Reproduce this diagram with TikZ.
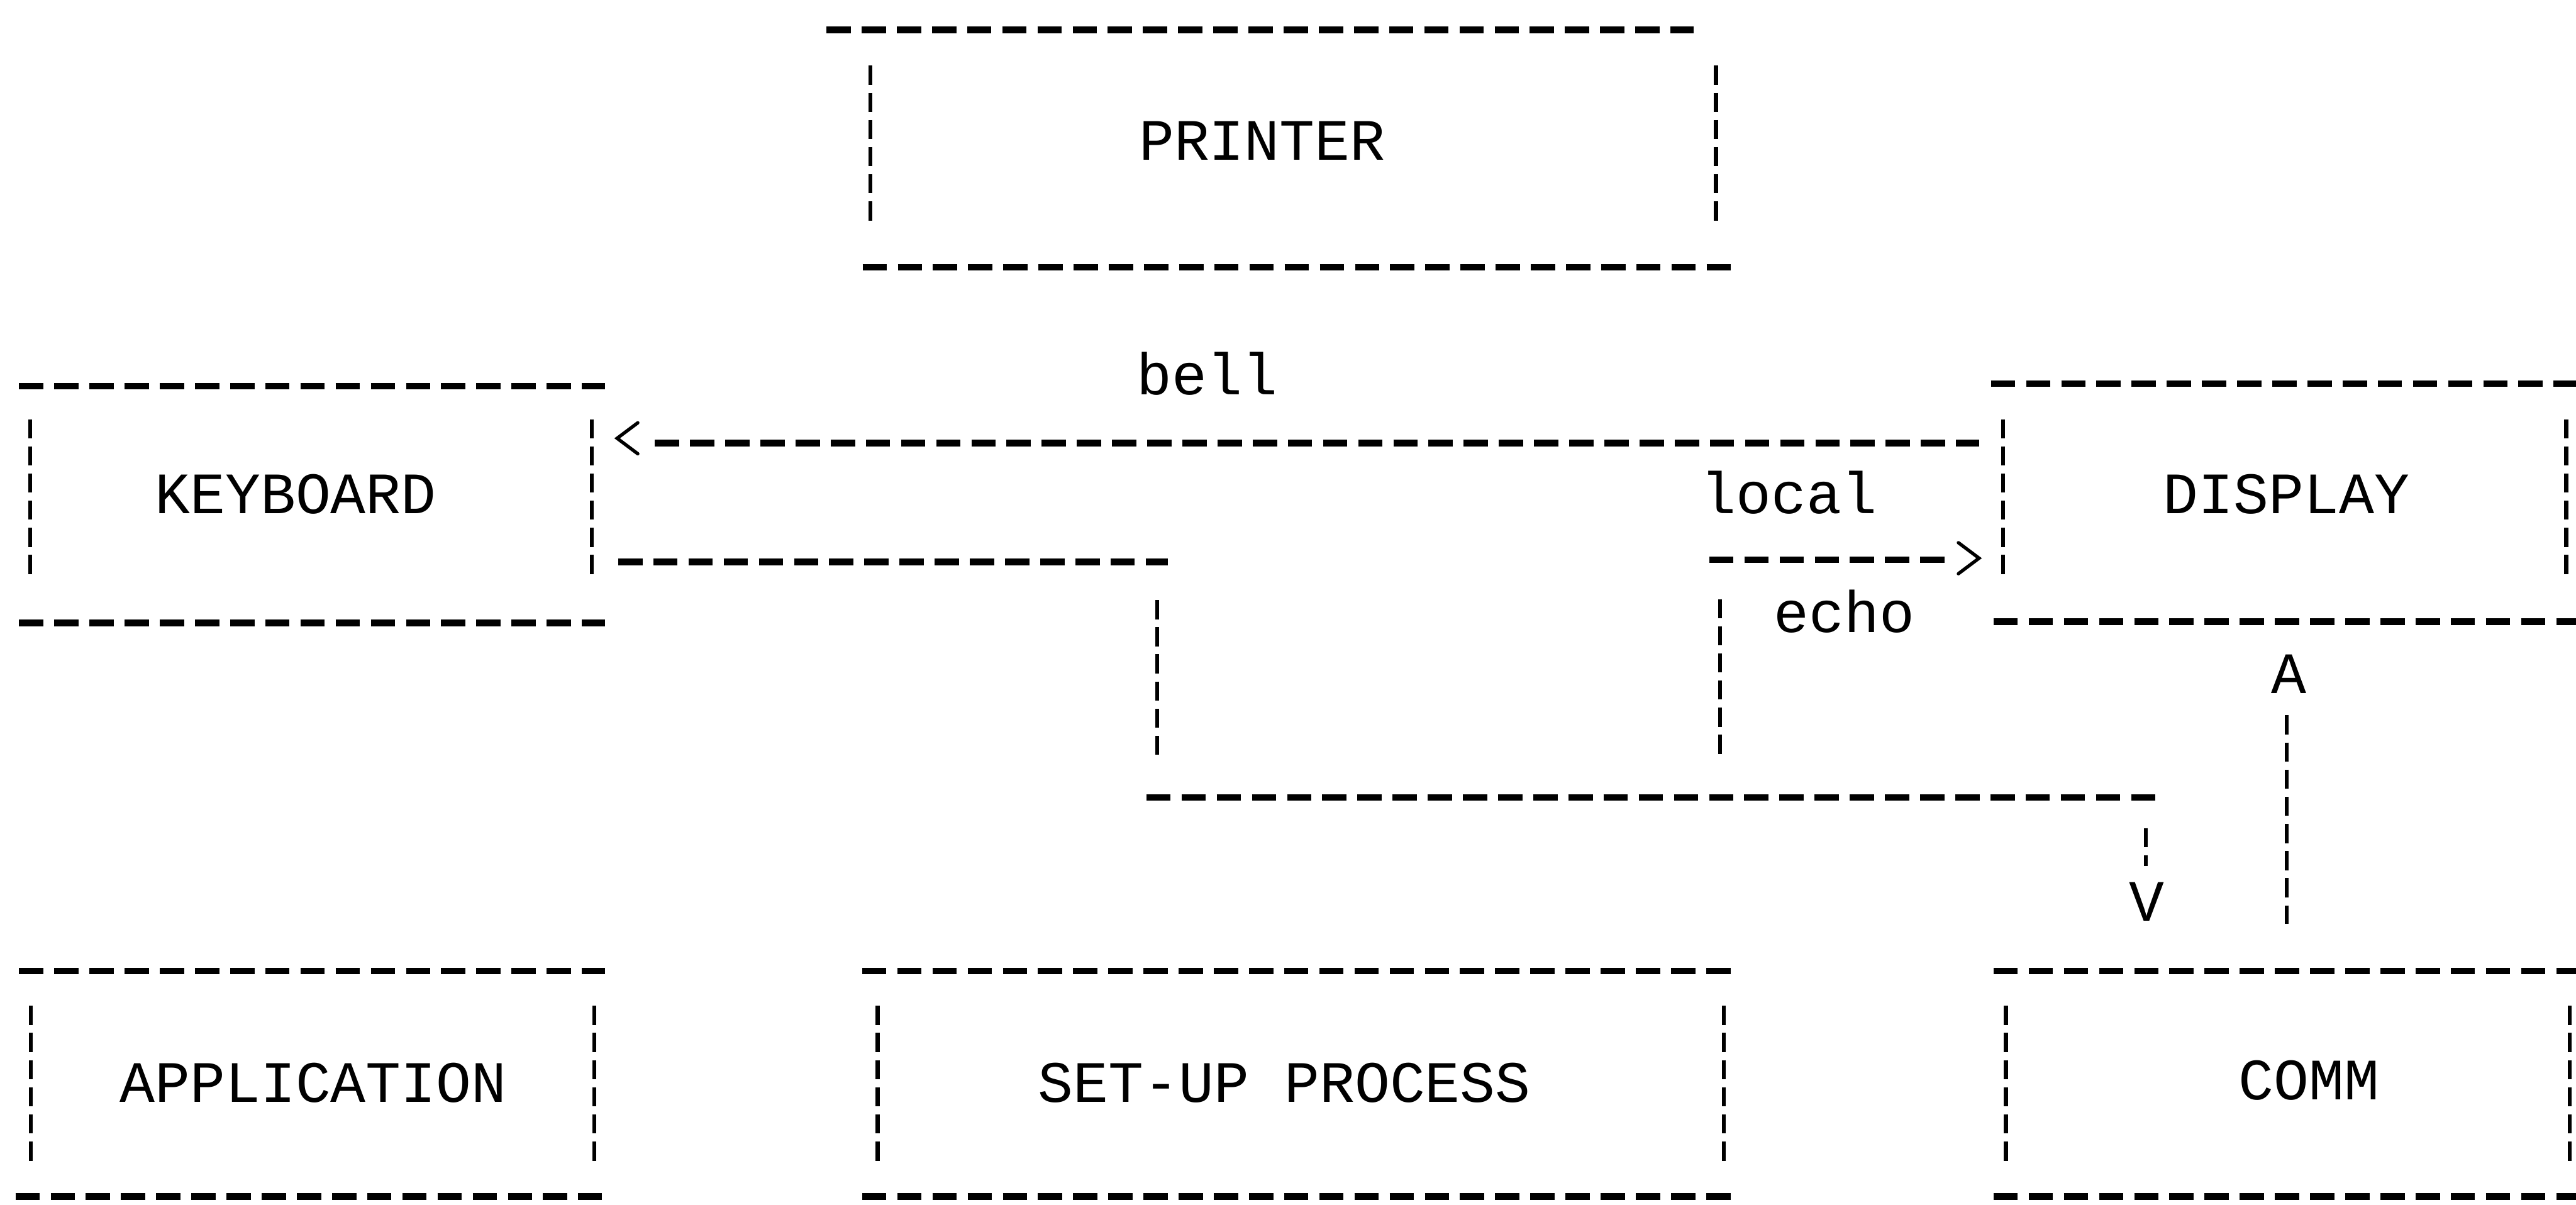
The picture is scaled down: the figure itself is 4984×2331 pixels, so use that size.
\documentclass[tikz,border=0pt]{standalone}
\usepackage{fontspec}
\newfontfamily\asciifont{Liberation Mono}
\begin{document}
\begin{tikzpicture}[x=0.01cm,y=-0.01cm,
  lbl/.style={font=\asciifont\fontsize{32.26}{38}\selectfont, inner sep=0pt, anchor=base},
  hline/.style={line width=0.127cm, dash pattern=on 0.47cm off 0.21cm},
  vline/.style={line width=0.075cm, dash pattern=on 0.37cm off 0.155cm},
  chev/.style={line width=0.065cm, line cap=round, line join=miter}]
\useasboundingbox (0,0) rectangle (4984,2331);

% ---------- PRINTER ----------
\draw[hline] (1599,58) -- (3277,58);
\draw[hline] (1669,517) -- (3350,517);
\draw[vline] (1684,127) -- (1684,435);
\draw[vline] (3320,127) -- (3320,435);
\node[lbl] (printer) at (2442,310) {PRINTER};

% ---------- KEYBOARD ----------
\draw[hline] (37,747) -- (1171,747);
\draw[hline] (37,1205) -- (1171,1205);
\draw[vline] (58,811) -- (58,1113);
\draw[vline] (1145,811) -- (1145,1113);
\node[lbl] (keyboard) at (572,993) {KEYBOARD};

% ---------- DISPLAY ----------
\draw[hline] (3852,742) -- (4984,742);
\draw[hline] (3857,1203) -- (4984,1203);
\draw[vline] (3875,811) -- (3875,1118);
\draw[vline] (4965,811) -- (4965,1118);
\node[lbl] (display) at (4424,993) {DISPLAY};

% ---------- APPLICATION ----------
\draw[hline] (37,1879) -- (1171,1879);
\draw[hline] (30,2315) -- (1164,2315);
\draw[vline] (60,1946) -- (60,2254);
\draw[vline] (1150,1946) -- (1150,2254);
\node[lbl] (application) at (606,2132) {APPLICATION};

% ---------- SET-UP PROCESS ----------
\draw[hline] (1668,1879) -- (3354,1879);
\draw[hline] (1668,2315) -- (3362,2315);
\draw[vline] (1698,1946) -- (1698,2254);
\draw[vline] (3335,1946) -- (3335,2254);
\node[lbl] (setup) at (2485,2132) {SET-UP PROCESS};

% ---------- COMM ----------
\draw[hline] (3857,1879) -- (4984,1879);
\draw[hline] (3857,2315) -- (4984,2315);
\draw[vline] (3881,1946) -- (3881,2259);
\draw[vline] (4972,1946) -- (4972,2259);
\node[lbl] (comm) at (4467,2128) {COMM};

% ---------- bell: DISPLAY -> KEYBOARD ----------
\coordinate (bellL) at (1267,857);
\coordinate (bellR) at (3829,857);
\draw[hline] (bellL) -- (bellR);
\coordinate (bellTip) at (1194,848);
\draw[chev] ([shift={(40,-30)}]bellTip) -- (bellTip) -- ([shift={(40,30)}]bellTip);
\node[lbl] (bell) at (2336,763) {bell};

% ---------- KEYBOARD -> COMM ----------
\coordinate (kA) at (1196,1087);
\coordinate (kB) at (2260,1087);
\coordinate (kC) at (2239,1161);
\coordinate (kD) at (2239,1463);
\coordinate (kE) at (2218,1543);
\coordinate (kF) at (4178,1543);
\coordinate (kG) at (4152,1602);
\coordinate (kH) at (4152,1676);
\draw[hline] (kA) -- (kB);
\draw[vline] (kC) -- (kD);
\draw[hline] (kE) -- (kF);
\draw[vline] (kG) -- (kH);
\node[lbl] (vtip) at (4154,1782) {V};

% ---------- local echo ----------
\coordinate (eA) at (3328,1461);
\coordinate (eB) at (3328,1159);
\coordinate (eC) at (3307,1083);
\coordinate (eD) at (3775,1083);
\draw[vline] (eB) -- (eA);
\draw[hline] (eC) -- (eD);
\coordinate (echoTip) at (3829,1080);
\draw[chev] ([shift={(-40,-30)}]echoTip) -- (echoTip) -- ([shift={(-40,30)}]echoTip);
\node[lbl] (local) at (3461,993) {local};
\node[lbl] (echo) at (3568,1224) {echo};

% ---------- COMM -> DISPLAY ----------
\coordinate (cA) at (4424,1787);
\coordinate (cB) at (4424,1384);
\draw[vline] (cB) -- (cA);
\node[lbl] (atip) at (4428,1341) {A};
\end{tikzpicture}
\end{document}
